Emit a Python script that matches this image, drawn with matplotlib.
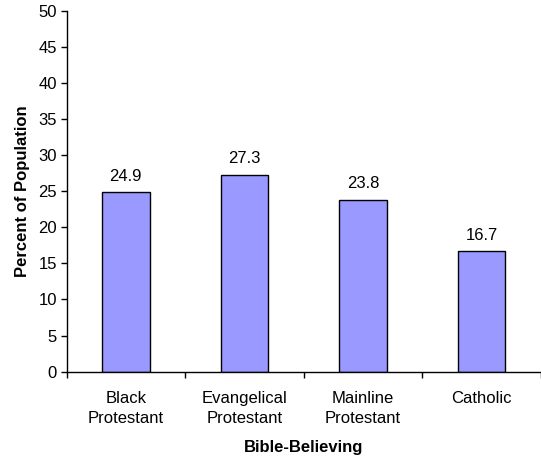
import matplotlib
matplotlib.use("Agg")
import matplotlib.pyplot as plt
from matplotlib.ticker import FixedLocator, NullFormatter

categories = ["Black\nProtestant", "Evangelical\nProtestant", "Mainline\nProtestant", "Catholic"]
values = [24.9, 27.3, 23.8, 16.7]
value_labels = ["24.9", "27.3", "23.8", "16.7"]
yticks = [0, 5, 10, 15, 20, 25, 30, 35, 40, 45, 50]

plt.rcParams['font.family'] = ['Liberation Sans', 'DejaVu Sans']

fig = plt.figure(figsize=(5.41, 4.62), dpi=100)
ax = fig.add_axes([0.123, 0.1955, 0.877, 0.7815])

x = list(range(len(categories)))
bars = ax.bar(x, values, width=0.4, color="#9999FF", edgecolor="black", linewidth=1.0, zorder=2)
for xi, v, lab in zip(x, values, value_labels):
    ax.annotate(lab, (xi, v), xytext=(0, 6), textcoords="offset points",
                ha="center", va="bottom", fontsize=12)

ax.set_xlim(-0.5, len(categories) - 0.5)
ax.set_ylim(0, 50)
ax.set_yticks(yticks)
ax.set_xticks(x)
ax.set_xticklabels(categories, fontsize=12, linespacing=1.4)
ax.xaxis.set_minor_locator(FixedLocator([i - 0.5 for i in range(len(categories) + 1)]))
ax.xaxis.set_minor_formatter(NullFormatter())
ax.tick_params(axis="x", which="major", length=0, pad=14)
ax.tick_params(axis="x", which="minor", length=4, direction="out", width=1)
ax.tick_params(axis="y", length=4, direction="out", labelsize=12, width=1, pad=3)

for s in ["top", "right"]:
    ax.spines[s].set_visible(False)
ax.spines["left"].set_linewidth(1)
ax.spines["bottom"].set_linewidth(1)

ax.set_ylabel("Percent of Population", fontsize=12, fontweight="bold", labelpad=6)
ax.set_xlabel("Bible-Believing", fontsize=12, fontweight="bold", labelpad=10)

fig.savefig("out.png", dpi=100)
